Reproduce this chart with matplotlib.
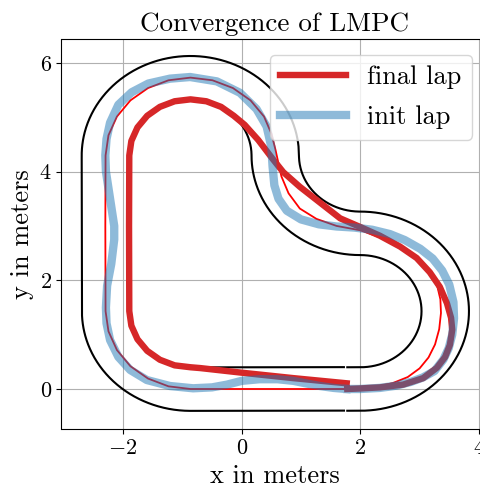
import numpy as np
import matplotlib
matplotlib.use("Agg")
import matplotlib.pyplot as plt

plt.rcParams["font.family"] = ["cmr10", "DejaVu Serif"]
plt.rcParams["mathtext.fontset"] = "cm"
plt.rcParams["axes.formatter.use_mathtext"] = True
plt.rcParams["axes.unicode_minus"] = True

# ---------------- track (centerline segments) -------------
track_start = (1.78, 0.0)
seg_length = [0.22, 4.5, 2.25, 4.5, 2.865, 2.25, 2.584]
seg_radius = [0.0, 1.432, -1.432, 1.432, 0.0, 1.432, 0.0]   # 0 = straight, + = left turn
half_width = 0.4

# ---------------- laps -----------------------------------------------------------
final_x = [1.78, 2.00, 2.33, 2.72, 3.06, 3.29, 3.43, 3.51, 3.55, 3.53, 3.46, 3.34,
           3.17, 2.95, 2.67, 2.33, 2.00, 1.66, 1.32, 0.98, 0.70, 0.51, 0.28, 0.05,
           -0.134, -0.348, -0.597, -0.864, -1.131, -1.380, -1.594, -1.758, -1.861,
           -1.896, -1.90, -1.896, -1.861, -1.758, -1.594, -1.380, -1.131, -0.864,
           -0.70, 0.00, 0.87, 1.77]
final_y = [0.00, 0.01, 0.03, 0.08, 0.20, 0.39, 0.59, 0.81, 1.09, 1.31, 1.58, 1.88,
           2.15, 2.41, 2.62, 2.82, 2.98, 3.14, 3.43, 3.72, 3.99, 4.25, 4.58, 4.86,
           5.027, 5.191, 5.294, 5.329, 5.294, 5.191, 5.027, 4.813, 4.564,
           4.297, 3.00, 1.432, 1.165, 0.916, 0.702, 0.538, 0.435, 0.400,
           0.385, 0.30, 0.20, 0.105]

init_x = [1.78, 2.00, 2.33, 2.60, 2.85, 3.05, 3.25, 3.40, 3.49, 3.55, 3.58, 3.57,
          3.50, 3.38, 3.22, 3.01, 2.75, 2.50, 2.20, 1.90, 1.60, 1.30, 1.00, 0.76,
          0.62, 0.55, 0.52, 0.50, 0.42, 0.25, -0.03, -0.42, -0.87, -1.21, -1.575,
          -1.855, -2.08, -2.22, -2.28, -2.30, -2.29, -2.22, -2.15, -2.15, -2.20,
          -2.27, -2.29, -2.28, -2.22, -2.08, -1.88, -1.60, -1.21, -0.82, -0.50,
          -0.25, 0.00, 0.30, 0.60, 0.87, 1.10, 1.32, 1.55, 1.77]
init_y = [0.00, 0.00, 0.02, 0.06, 0.13, 0.21, 0.33, 0.54, 0.75, 1.00, 1.30, 1.60,
          1.92, 2.18, 2.40, 2.58, 2.74, 2.85, 2.93, 2.97, 2.99, 3.03, 3.12, 3.28,
          3.50, 3.75, 4.10, 4.45, 4.83, 5.15, 5.45, 5.66, 5.74, 5.71, 5.62,
          5.46, 5.23, 4.90, 4.60, 4.30, 4.00, 3.50, 3.00, 2.75, 2.30,
          1.90, 1.50, 1.21, 0.90, 0.59, 0.35, 0.165, 0.055, 0.013, 0.03,
          0.08, 0.15, 0.18, 0.18, 0.15, 0.10, 0.055, 0.02, 0.00]

mid_x = [1.78, 2.00, 2.30, 2.55, 2.80, 3.00, 3.15, 3.26, 3.33, 3.36, 3.35, 3.30,
         3.20, 3.05, 2.85, 2.60, 2.33, 2.00, 1.60, 1.26, 0.98, 0.79, 0.67, 0.62,
         0.57, 0.50, 0.376, 0.149, -0.148, -0.493, -0.864, -1.235, -1.580, -1.877,
         -2.104, -2.247, -2.296, -2.30, -2.296, -2.247, -2.104, -1.877, -1.580,
         -1.235, -0.864, 1.77]
mid_y = [0.00, 0.01, 0.05, 0.11, 0.22, 0.38, 0.58, 0.82, 1.10, 1.40, 1.65, 1.88,
         2.10, 2.32, 2.52, 2.67, 2.79, 2.92, 3.00, 3.13, 3.32, 3.60, 3.91, 4.15,
         4.40, 4.70, 5.013, 5.310, 5.537, 5.680, 5.729, 5.680, 5.537, 5.310,
         5.013, 4.668, 4.297, 3.00, 1.432, 1.061, 0.716, 0.419, 0.192,
         0.049, 0.0, 0.0]


def track_boundaries(start, lengths, radii, hw):
    x0, y0 = start
    psi0 = 0.0
    xs_all, ys_all, ps_all = [], [], []
    for L, R in zip(lengths, radii):
        s = np.linspace(0.0, L, max(3, int(L / 0.01)))
        if R == 0:
            xs = x0 + s * np.cos(psi0)
            ys = y0 + s * np.sin(psi0)
            ps = np.full_like(s, psi0)
        else:
            cx = x0 - R * np.sin(psi0)
            cy = y0 + R * np.cos(psi0)
            ps = psi0 + s / R
            xs = cx + R * np.sin(ps)
            ys = cy - R * np.cos(ps)
        xs_all.append(xs); ys_all.append(ys); ps_all.append(ps)
        x0, y0, psi0 = xs[-1], ys[-1], ps[-1]
    xc = np.concatenate(xs_all); yc = np.concatenate(ys_all); pc = np.concatenate(ps_all)
    nx, ny = -np.sin(pc), np.cos(pc)
    return (xc + hw * nx, yc + hw * ny), (xc - hw * nx, yc - hw * ny)


W, H = 481, 487
fig = plt.figure(figsize=(W / 100, H / 100), dpi=100)
ax = fig.add_axes([61.5 / W, (H - 429) / H, (488 - 61.5) / W, (429 - 39.3) / H])

(ix, iy), (ox, oy) = track_boundaries(track_start, seg_length, seg_radius, half_width)
ax.plot(ix, iy, color="black", lw=1.5)
ax.plot(ox, oy, color="black", lw=1.5)
ax.plot(mid_x, mid_y, color="red", lw=1.3)
ax.plot(final_x, final_y, color="#d62728", lw=4.6, label="final lap")
ax.plot(init_x, init_y, color="#1f77b4", alpha=0.5, lw=6, label="init lap")

ax.set_xlim(-3.039, 4.153)
ax.set_ylim(-0.736, 6.434)
ax.set_xticks([-2, 0, 2, 4])
ax.set_yticks([0, 2, 4, 6])
ax.grid(True)
ax.tick_params(labelsize=16)
ax.set_title("Convergence of LMPC", fontsize=19.5)
ax.set_xlabel("x in meters", fontsize=19)
ax.set_ylabel("y in meters", fontsize=19)
ax.legend(loc="upper right", fontsize=19, handlelength=2.5, labelspacing=0.6,
          borderaxespad=0.6)

fig.savefig("out.png", dpi=100)
